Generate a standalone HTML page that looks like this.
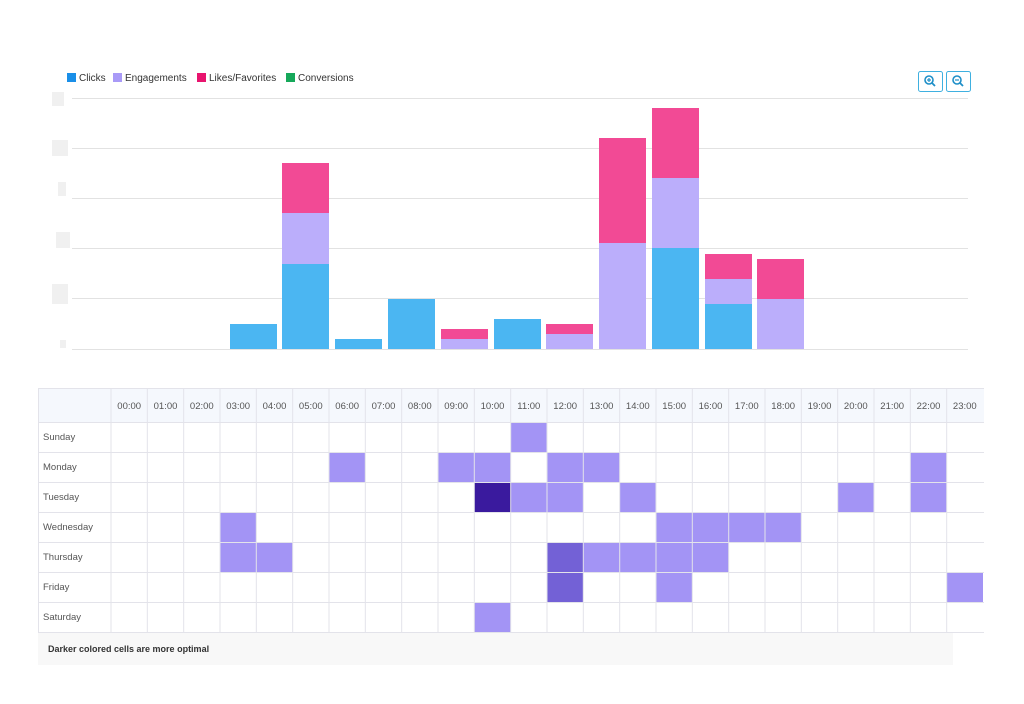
<!DOCTYPE html>
<html><head><meta charset="utf-8"><style>
body{margin:0;background:#fff;width:1024px;height:699px;overflow:hidden;font-family:"Liberation Sans",sans-serif}
</style></head><body>
<svg width="1024" height="699" xmlns="http://www.w3.org/2000/svg" font-family="Liberation Sans, sans-serif">
<!-- legend -->
<rect x="67" y="73" width="9" height="9" fill="#1a8fe8"/><text x="79" y="81" font-size="10" fill="#333">Clicks</text>
<rect x="113" y="73" width="9" height="9" fill="#a99af7"/><text x="125" y="81" font-size="10" fill="#333">Engagements</text>
<rect x="197" y="73" width="9" height="9" fill="#e8146e"/><text x="209" y="81" font-size="10" fill="#333">Likes/Favorites</text>
<rect x="286" y="73" width="9" height="9" fill="#16a85a"/><text x="298" y="81" font-size="10" fill="#333">Conversions</text>
<!-- zoom buttons -->
<rect x="918.5" y="71.5" width="24" height="20" rx="2" fill="#fff" stroke="#3fb0e0"/>
<circle cx="929" cy="80" r="4" fill="none" stroke="#1e8fc8" stroke-width="1.6"/><line x1="932" y1="83" x2="935" y2="86" stroke="#1e8fc8" stroke-width="1.8"/><line x1="927" y1="80" x2="931" y2="80" stroke="#1e8fc8" stroke-width="1.2"/><line x1="929" y1="78" x2="929" y2="82" stroke="#1e8fc8" stroke-width="1.2"/>
<rect x="946.5" y="71.5" width="24" height="20" rx="2" fill="#fff" stroke="#3fb0e0"/>
<circle cx="957" cy="80" r="4" fill="none" stroke="#1e8fc8" stroke-width="1.6"/><line x1="960" y1="83" x2="963" y2="86" stroke="#1e8fc8" stroke-width="1.8"/><line x1="955" y1="80" x2="959" y2="80" stroke="#1e8fc8" stroke-width="1.2"/>
<!-- gridlines -->
<g stroke="#e2e2e2" stroke-width="1">
<line x1="72" y1="98.5" x2="968" y2="98.5"/><line x1="72" y1="148.5" x2="968" y2="148.5"/><line x1="72" y1="198.5" x2="968" y2="198.5"/><line x1="72" y1="248.5" x2="968" y2="248.5"/><line x1="72" y1="298.5" x2="968" y2="298.5"/><line x1="72" y1="349.5" x2="968" y2="349.5"/>
</g>
<g fill="#f0f0f0"><rect x="52" y="92" width="12" height="14"/><rect x="52" y="140" width="16" height="16"/><rect x="58" y="182" width="8" height="14"/><rect x="56" y="232" width="14" height="16"/><rect x="52" y="284" width="16" height="20"/><rect x="60" y="340" width="6" height="8"/></g>
<!-- bars -->
<g>
<rect x="230" y="324" width="47" height="25" fill="#4bb6f2"/>
<rect x="282" y="264" width="47" height="85" fill="#4bb6f2"/><rect x="282" y="213" width="47" height="51" fill="#bbaefb"/><rect x="282" y="163" width="47" height="50" fill="#f24a95"/>
<rect x="335" y="339" width="47" height="10" fill="#4bb6f2"/>
<rect x="388" y="299" width="47" height="50" fill="#4bb6f2"/>
<rect x="441" y="339" width="47" height="10" fill="#bbaefb"/><rect x="441" y="329" width="47" height="10" fill="#f24a95"/>
<rect x="494" y="319" width="47" height="30" fill="#4bb6f2"/>
<rect x="546" y="334" width="47" height="15" fill="#bbaefb"/><rect x="546" y="324" width="47" height="10" fill="#f24a95"/>
<rect x="599" y="243" width="47" height="106" fill="#bbaefb"/><rect x="599" y="138" width="47" height="105" fill="#f24a95"/>
<rect x="652" y="248" width="47" height="101" fill="#4bb6f2"/><rect x="652" y="178" width="47" height="70" fill="#bbaefb"/><rect x="652" y="108" width="47" height="70" fill="#f24a95"/>
<rect x="705" y="304" width="47" height="45" fill="#4bb6f2"/><rect x="705" y="279" width="47" height="25" fill="#bbaefb"/><rect x="705" y="254" width="47" height="25" fill="#f24a95"/>
<rect x="757" y="299" width="47" height="50" fill="#bbaefb"/><rect x="757" y="259" width="47" height="40" fill="#f24a95"/>
</g>
<!-- heatmap header -->
<rect x="38" y="388" width="946" height="34" fill="#f5f8fd"/>
<!-- filled cells: col x = 111+36.33*h, row y = 422+30*d -->
<g fill="#a394f5">
<rect x="510.7" y="422" width="36.3" height="30"/>
<rect x="329" y="452" width="36.3" height="30"/><rect x="438" y="452" width="36.3" height="30"/><rect x="474.3" y="452" width="36.3" height="30"/><rect x="547" y="452" width="36.3" height="30"/><rect x="583.3" y="452" width="36.3" height="30"/><rect x="910.3" y="452" width="36.3" height="30"/>
<rect x="510.7" y="482" width="36.3" height="30"/><rect x="547" y="482" width="36.3" height="30"/><rect x="619.7" y="482" width="36.3" height="30"/><rect x="837.7" y="482" width="36.3" height="30"/><rect x="910.3" y="482" width="36.3" height="30"/>
<rect x="220" y="512" width="36.3" height="30"/><rect x="656" y="512" width="36.3" height="30"/><rect x="692.3" y="512" width="36.3" height="30"/><rect x="728.7" y="512" width="36.3" height="30"/><rect x="765" y="512" width="36.3" height="30"/>
<rect x="220" y="542" width="36.3" height="30"/><rect x="256.3" y="542" width="36.3" height="30"/><rect x="583.3" y="542" width="36.3" height="30"/><rect x="619.7" y="542" width="36.3" height="30"/><rect x="656" y="542" width="36.3" height="30"/><rect x="692.3" y="542" width="36.3" height="30"/>
<rect x="656" y="572" width="36.3" height="30"/><rect x="946.7" y="572" width="36.3" height="30"/>
<rect x="474.3" y="602" width="36.3" height="30"/>
</g>
<rect x="474.3" y="482" width="36.3" height="30" fill="#3a1a9e"/>
<rect x="547" y="542" width="36.3" height="30" fill="#7361d6"/>
<rect x="547" y="572" width="36.3" height="30" fill="#7361d6"/>
<!-- grid lines -->
<g stroke="#e3e3ea" stroke-width="1">
<line x1="38" y1="388.5" x2="984" y2="388.5"/>
<line x1="38" y1="422.5" x2="984" y2="422.5"/><line x1="38" y1="452.5" x2="984" y2="452.5"/><line x1="38" y1="482.5" x2="984" y2="482.5"/><line x1="38" y1="512.5" x2="984" y2="512.5"/><line x1="38" y1="542.5" x2="984" y2="542.5"/><line x1="38" y1="572.5" x2="984" y2="572.5"/><line x1="38" y1="602.5" x2="984" y2="602.5"/><line x1="38" y1="632.5" x2="984" y2="632.5"/>
<line x1="38.5" y1="388" x2="38.5" y2="633"/><line x1="111" y1="388" x2="111" y2="633"/><line x1="147.3" y1="388" x2="147.3" y2="633"/><line x1="183.7" y1="388" x2="183.7" y2="633"/><line x1="220" y1="388" x2="220" y2="633"/><line x1="256.3" y1="388" x2="256.3" y2="633"/><line x1="292.7" y1="388" x2="292.7" y2="633"/><line x1="329" y1="388" x2="329" y2="633"/><line x1="365.3" y1="388" x2="365.3" y2="633"/><line x1="401.7" y1="388" x2="401.7" y2="633"/><line x1="438" y1="388" x2="438" y2="633"/><line x1="474.3" y1="388" x2="474.3" y2="633"/><line x1="510.7" y1="388" x2="510.7" y2="633"/><line x1="547" y1="388" x2="547" y2="633"/><line x1="583.3" y1="388" x2="583.3" y2="633"/><line x1="619.7" y1="388" x2="619.7" y2="633"/><line x1="656" y1="388" x2="656" y2="633"/><line x1="692.3" y1="388" x2="692.3" y2="633"/><line x1="728.7" y1="388" x2="728.7" y2="633"/><line x1="765" y1="388" x2="765" y2="633"/><line x1="801.3" y1="388" x2="801.3" y2="633"/><line x1="837.7" y1="388" x2="837.7" y2="633"/><line x1="874" y1="388" x2="874" y2="633"/><line x1="910.3" y1="388" x2="910.3" y2="633"/><line x1="946.7" y1="388" x2="946.7" y2="633"/>
</g>
<g font-size="9.5" fill="#555" text-anchor="middle">
<text x="129.2" y="409">00:00</text><text x="165.5" y="409">01:00</text><text x="201.8" y="409">02:00</text><text x="238.2" y="409">03:00</text><text x="274.5" y="409">04:00</text><text x="310.8" y="409">05:00</text><text x="347.2" y="409">06:00</text><text x="383.5" y="409">07:00</text><text x="419.8" y="409">08:00</text><text x="456.2" y="409">09:00</text><text x="492.5" y="409">10:00</text><text x="528.8" y="409">11:00</text><text x="565.2" y="409">12:00</text><text x="601.5" y="409">13:00</text><text x="637.8" y="409">14:00</text><text x="674.2" y="409">15:00</text><text x="710.5" y="409">16:00</text><text x="746.8" y="409">17:00</text><text x="783.2" y="409">18:00</text><text x="819.5" y="409">19:00</text><text x="855.8" y="409">20:00</text><text x="892.2" y="409">21:00</text><text x="928.5" y="409">22:00</text><text x="964.8" y="409">23:00</text>
</g>
<g font-size="9.5" fill="#555">
<text x="43" y="440">Sunday</text><text x="43" y="470">Monday</text><text x="43" y="500">Tuesday</text><text x="43" y="530">Wednesday</text><text x="43" y="560">Thursday</text><text x="43" y="590">Friday</text><text x="43" y="620">Saturday</text>
</g>
<rect x="38" y="633" width="915" height="32" fill="#f8f8f8"/>
<text x="48" y="652" font-size="9" font-weight="bold" fill="#333">Darker colored cells are more optimal</text>
</svg>
</body></html>
